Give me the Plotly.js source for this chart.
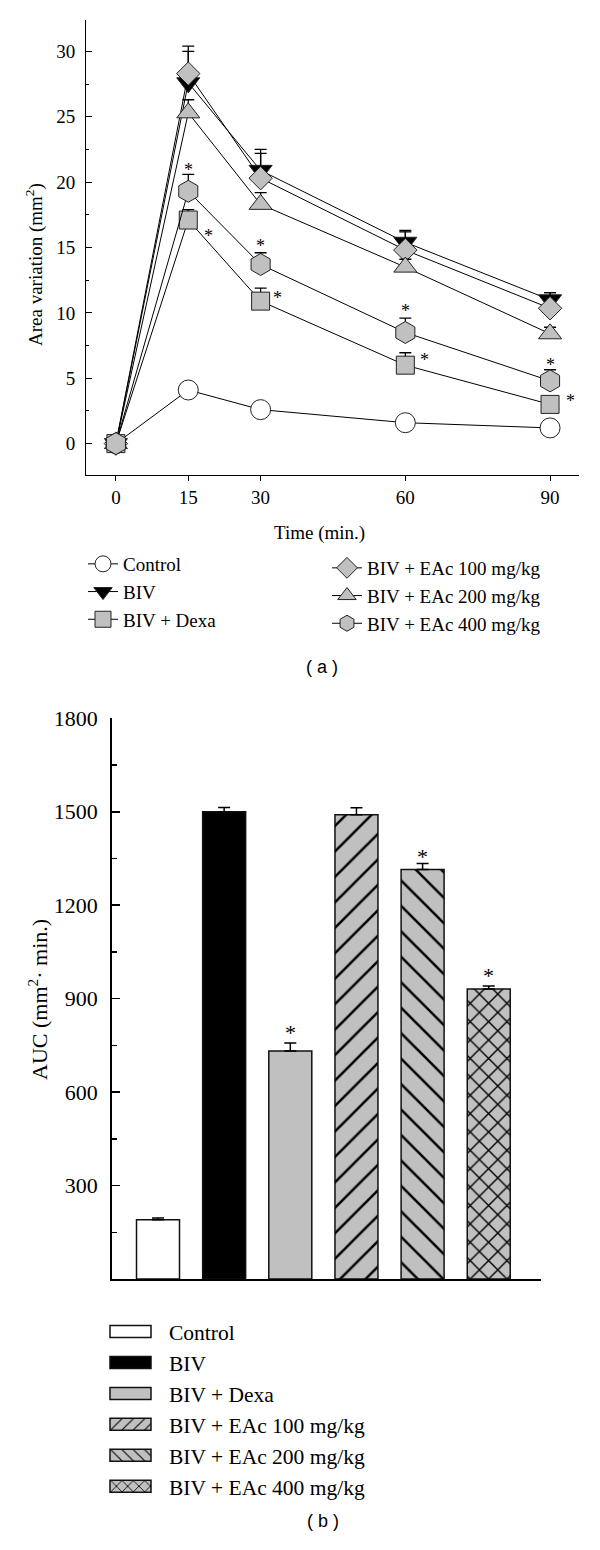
<!DOCTYPE html>
<html><head><meta charset="utf-8">
<script src="https://cdn.plot.ly/plotly-3.0.1.min.js"></script>
<style>html,body{margin:0;padding:0;background:#fff}#chart{width:600px;height:1550px}</style>
</head><body><div id="chart"></div>
<script>
// ---------- data (a) ----------
const timePoints = [0, 15, 30, 60, 90];
const groupNames = ['Control', 'BIV', 'BIV + Dexa', 'BIV + EAc 100 mg/kg', 'BIV + EAc 200 mg/kg', 'BIV + EAc 400 mg/kg'];
const controlArea = [0, 4.1, 2.6, 1.6, 1.2];
const controlErr  = [0, 0, 0, 0, 0];
const bivArea     = [0, 27.6, 20.9, 15.4, 11.0];
const bivErr      = [0, 2.4, 1.6, 0.9, 0.55];
const dexaArea    = [0, 17.1, 10.9, 6.0, 3.0];
const dexaErr     = [0, 0.8, 1.0, 0.95, 0.4];
const eac100Area  = [0, 28.3, 20.3, 14.8, 10.35];
const eac100Err   = [0, 2.1, 1.9, 1.4, 1.2];
const eac200Area  = [0, 25.3, 18.3, 13.5, 8.4];
const eac200Err   = [0, 1.0, 0.9, 0.6, 0.5];
const eac400Area  = [0, 19.3, 13.7, 8.5, 4.8];
const eac400Err   = [0, 1.3, 0.9, 1.1, 0.85];
const starTimeA = [15, 19.2, 30, 33.4, 60, 64, 90, 94.3];
const starAreaA = [21.2, 16.2, 15.4, 11.45, 10.45, 6.7, 6.3, 3.6];
const yTicksA = [0, 5, 10, 15, 20, 25, 30];
// ---------- data (b) ----------
const aucValues = [190, 1500, 732, 1490, 1315, 931];
const aucErr    = [6, 14, 26, 23, 19, 10];
const starGroupsB = ['BIV + Dexa', 'BIV + EAc 200 mg/kg', 'BIV + EAc 400 mg/kg'];
const starAucB    = [795, 1361, 977];
const yTicksB = [300, 600, 900, 1200, 1500, 1800];

// ---------- styles ----------
const SERIF = 'Liberation Serif, Times New Roman, serif';
const GRAY = '#c0c0c0';
const lineSeries = [controlArea, bivArea, dexaArea, eac100Area, eac200Area, eac400Area];
const lineErrs = [controlErr, bivErr, dexaErr, eac100Err, eac200Err, eac400Err];
const lineStyle = [
  {symbol: 'circle', color: '#ffffff', size: 20, legend: 'legend'},
  {symbol: 'triangle-down', color: '#000000', size: 20, legend: 'legend'},
  {symbol: 'square', color: GRAY, size: 18, legend: 'legend'},
  {symbol: 'diamond', color: GRAY, size: 18, legend: 'legend2'},
  {symbol: 'triangle-up', color: GRAY, size: 20, legend: 'legend2'},
  {symbol: 'hexagon', color: GRAY, size: 22, legend: 'legend2'}
];
const barStyle = [
  {color: '#ffffff', pattern: {shape: ''}},
  {color: '#000000', pattern: {shape: ''}},
  {color: GRAY, pattern: {shape: ''}},
  {color: GRAY, pattern: {shape: '/', bgcolor: GRAY, fgcolor: '#000', size: 18, solidity: 0.14, fillmode: 'replace'}},
  {color: GRAY, pattern: {shape: '\\', bgcolor: GRAY, fgcolor: '#000', size: 18, solidity: 0.14, fillmode: 'replace'}},
  {color: GRAY, pattern: {shape: 'x', bgcolor: GRAY, fgcolor: '#000', size: 13, solidity: 0.2, fillmode: 'replace'}}
];

const traces = [];
groupNames.forEach((name, i) => {
  const s = lineStyle[i];
  traces.push({
    type: 'scatter', mode: 'lines+markers', name: name,
    x: timePoints, y: lineSeries[i], xaxis: 'x', yaxis: 'y',
    legend: s.legend,
    line: {color: '#000', width: 1},
    marker: {symbol: s.symbol, color: s.color, size: s.size, line: {color: '#222', width: 1}},
    error_y: {type: 'data', symmetric: false, array: lineErrs[i], arrayminus: timePoints.map(() => 0),
              color: '#000', thickness: 1.3, width: 6, visible: true}
  });
});
groupNames.forEach((name, i) => {
  const s = barStyle[i];
  traces.push({
    type: 'bar', name: name, x: [name], y: [aucValues[i]], xaxis: 'x2', yaxis: 'y2',
    legend: 'legend3', width: 0.65,
    marker: {color: s.color, line: {color: '#111', width: 1.5}, pattern: s.pattern},
    error_y: {type: 'data', symmetric: false, array: [aucErr[i]], arrayminus: [0],
              color: '#000', thickness: 1.5, width: 6}
  });
});

const annotations = [];
starTimeA.forEach((t, i) => annotations.push({
  xref: 'x', yref: 'y', x: t, y: starAreaA[i], text: '*', showarrow: false,
  yshift: -4, font: {family: SERIF, size: 18, color: '#000'}
}));
starGroupsB.forEach((g, i) => annotations.push({
  xref: 'x2', yref: 'y2', x: g, y: starAucB[i], text: '*', showarrow: false,
  yshift: -1, font: {family: SERIF, size: 22, color: '#000'}
}));
annotations.push(
  {xref: 'paper', yref: 'paper', x: 319/600, y: 1 - 533/1550, text: 'Time (min.)', showarrow: false,
   font: {family: SERIF, size: 19, color: '#000'}},
  {xref: 'paper', yref: 'paper', x: 35/600, y: 1 - 265/1550, xanchor: 'center', yanchor: 'middle',
   text: 'Area variation (mm<sup>2</sup>)', textangle: -90,
   showarrow: false, font: {family: SERIF, size: 19, color: '#000'}},
  {xref: 'paper', yref: 'paper', x: 38/600, y: 1 - 1000/1550, xanchor: 'center', yanchor: 'middle',
   text: 'AUC (mm<sup>2</sup>· min.)', textangle: -90,
   showarrow: false, font: {family: SERIF, size: 22, color: '#000'}},
  {xref: 'paper', yref: 'paper', x: 322/600, y: 1 - 667/1550, text: '( a )', showarrow: false,
   font: {family: 'Liberation Sans, Arial, sans-serif', size: 18, color: '#000'}},
  {xref: 'paper', yref: 'paper', x: 323/600, y: 1 - 1533/1550, text: '( b )', showarrow: false,
   font: {family: 'Liberation Sans, Arial, sans-serif', size: 18, color: '#000'}}
);

const legendBase = {
  xanchor: 'left', yanchor: 'top', bgcolor: 'rgba(0,0,0,0)', borderwidth: 0,
  font: {family: SERIF, size: 19, color: '#000'}, itemsizing: 'trace', traceorder: 'normal'
};

const layout = {
  width: 600, height: 1550, margin: {l: 0, r: 0, t: 0, b: 0},
  paper_bgcolor: '#fff', plot_bgcolor: '#fff', showlegend: true,
  font: {family: SERIF, size: 19, color: '#000'},
  barmode: 'overlay',
  xaxis: {domain: [86/600, 579/600], range: [-6.2, 96], tickvals: timePoints, ticks: 'outside', ticklen: 5,
          tickcolor: '#000', showline: true, linecolor: '#000', linewidth: 1, showgrid: false, zeroline: false,
          tickfont: {family: SERIF, size: 19}, anchor: 'y'},
  yaxis: {domain: [1 - 475/1550, 1 - 20/1550], range: [-2.4, 32.4], tickvals: yTicksA, ticks: 'inside', ticklen: 6,
          tickcolor: '#000', showline: true, linecolor: '#000', linewidth: 1, showgrid: false, zeroline: false,
          minor: {dtick: 2.5, ticks: 'inside', ticklen: 3, tickcolor: '#000', showgrid: false},
          tickfont: {family: SERIF, size: 19}, ticklabelstandoff: 6, anchor: 'x'},
  xaxis2: {domain: [111.7/600, 541/600], range: [-0.7, 5.79], type: 'category', categoryorder: 'array',
           categoryarray: groupNames, showticklabels: false, ticks: '', showline: true, linecolor: '#000',
           linewidth: 1.5, showgrid: false, zeroline: false, anchor: 'y2'},
  yaxis2: {domain: [1 - 1279/1550, 1 - 718.3/1550], range: [0, 1800], tickvals: yTicksB, ticks: 'inside', ticklen: 8,
           tickcolor: '#000', tickwidth: 1.5, showline: true, linecolor: '#000', linewidth: 1.5, showgrid: false,
           zeroline: false, minor: {dtick: 150, ticks: 'inside', ticklen: 5, tickcolor: '#000', tickwidth: 1.5, showgrid: false},
           tickfont: {family: SERIF, size: 22}, ticklabelstandoff: 8, anchor: 'x2'},
  legend: Object.assign({}, legendBase, {x: 83/600, y: 1 - 545/1550}),
  legend2: Object.assign({}, legendBase, {x: 327/600, y: 1 - 549/1550}),
  legend3: Object.assign({}, legendBase, {x: 109/600, y: 1 - 1311/1550, itemwidth: 50,
                                           font: {family: SERIF, size: 21.5, color: '#000'}}),
  annotations: annotations
};

function widenSwatches() {
  const g = document.querySelector('#chart g.legend3');
  if (!g) return;
  g.querySelectorAll('g.legendpoints path').forEach(p => p.setAttribute('d', 'M12,6H-29V-6H12Z'));
}
Plotly.newPlot('chart', traces, layout, {displayModeBar: false, staticPlot: true}).then(() => {
  widenSwatches();
  setTimeout(widenSwatches, 50);
});
</script></body></html>
